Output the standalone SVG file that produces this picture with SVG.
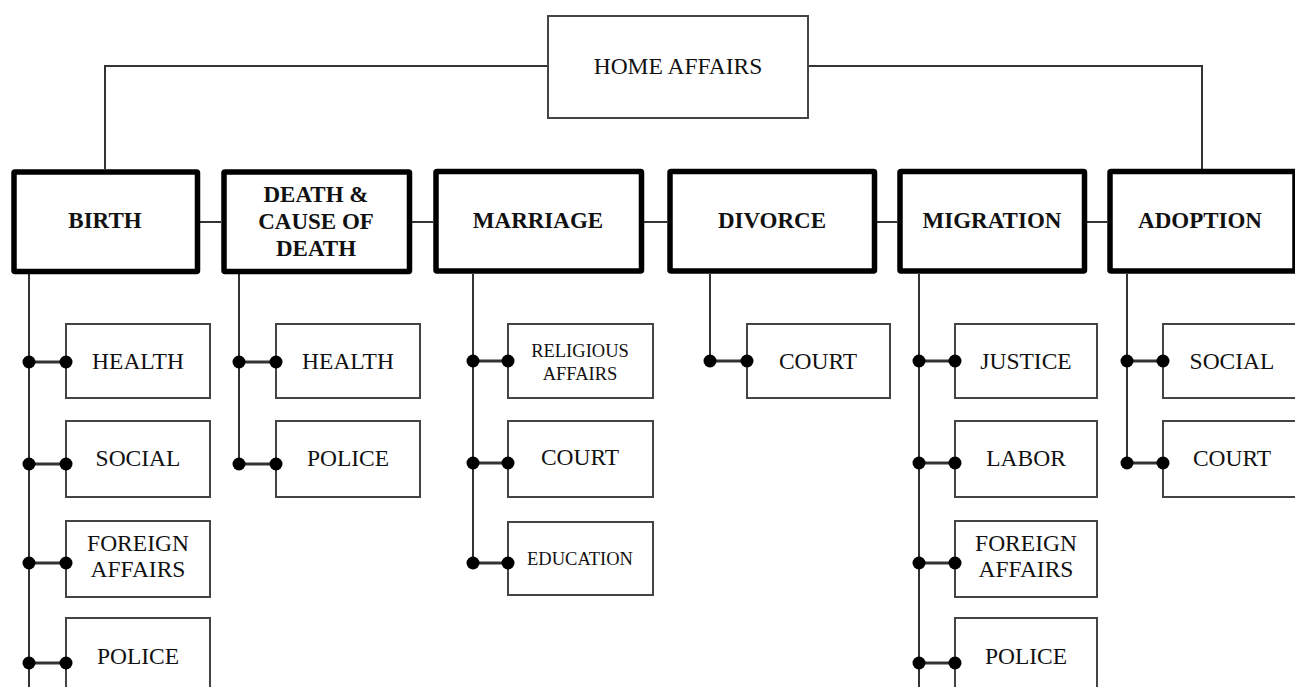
<svg xmlns="http://www.w3.org/2000/svg" width="1295" height="687" viewBox="0 0 1295 687">
<style>
.main{fill:#fff;stroke:#000;stroke-width:5.5}
.sub{fill:#fff;stroke:#444;stroke-width:2}
.top{fill:#fff;stroke:#444;stroke-width:2}
.ln{fill:none;stroke:#333;stroke-width:2}
.br{fill:none;stroke:#333;stroke-width:3}
.dot{fill:#000}
text{font-family:"Liberation Serif","Times New Roman",serif;fill:#111;text-anchor:middle}
.b{font-weight:bold;font-size:23px}
.n{font-size:23.5px}
.s{font-size:18.5px}
</style>
<rect width="1295" height="687" fill="#fff"/>
<g id="connectors">
<polyline class="ln" points="105,169 105,66 548,66"/>
<polyline class="ln" points="808,66 1202,66 1202,169"/>
<line class="ln" x1="200" y1="222" x2="221" y2="222"/>
<line class="ln" x1="412" y1="222" x2="433" y2="222"/>
<line class="ln" x1="644" y1="222" x2="667" y2="222"/>
<line class="ln" x1="877" y1="222" x2="897" y2="222"/>
<line class="ln" x1="1087" y1="222" x2="1107" y2="222"/>
<line class="ln" x1="29" y1="274" x2="29" y2="687"/>
<line class="ln" x1="239" y1="274" x2="239" y2="464"/>
<line class="ln" x1="473" y1="274" x2="473" y2="563"/>
<line class="ln" x1="710" y1="274" x2="710" y2="361"/>
<line class="ln" x1="919" y1="274" x2="919" y2="687"/>
<line class="ln" x1="1127" y1="274" x2="1127" y2="463"/>
<g class="br">
<line x1="29" y1="362" x2="66" y2="362"/><line x1="29" y1="464" x2="66" y2="464"/><line x1="29" y1="563" x2="66" y2="563"/><line x1="29" y1="663" x2="66" y2="663"/>
<line x1="239" y1="362" x2="276" y2="362"/><line x1="239" y1="464" x2="276" y2="464"/>
<line x1="473" y1="361" x2="508" y2="361"/><line x1="473" y1="463" x2="508" y2="463"/><line x1="473" y1="563" x2="508" y2="563"/>
<line x1="710" y1="361" x2="747" y2="361"/>
<line x1="919" y1="361" x2="955" y2="361"/><line x1="919" y1="463" x2="955" y2="463"/><line x1="919" y1="563" x2="955" y2="563"/><line x1="919" y1="663" x2="955" y2="663"/>
<line x1="1127" y1="361" x2="1163" y2="361"/><line x1="1127" y1="463" x2="1163" y2="463"/>
</g>
</g>
<g id="n-home"><rect class="top" x="548" y="16" width="260" height="102"/><text class="n" x="678" y="74">HOME AFFAIRS</text></g>
<g id="n-birth"><rect class="main" x="14" y="172" width="183.5" height="99.5" rx="1"/><text class="b" x="105" y="228">BIRTH</text></g>
<g id="n-death"><rect class="main" x="224" y="172" width="185.5" height="99.5" rx="1"/><text class="b" x="316" y="202">DEATH &amp;</text><text class="b" x="316" y="229">CAUSE OF</text><text class="b" x="316" y="256">DEATH</text></g>
<g id="n-marriage"><rect class="main" x="436" y="171.5" width="205.5" height="99.5" rx="1"/><text class="b" x="538" y="228">MARRIAGE</text></g>
<g id="n-divorce"><rect class="main" x="670" y="171.5" width="204.5" height="99.5" rx="1"/><text class="b" x="772" y="228">DIVORCE</text></g>
<g id="n-migration"><rect class="main" x="900" y="171.5" width="184.5" height="99.5" rx="1"/><text class="b" x="992" y="228">MIGRATION</text></g>
<g id="n-adoption"><rect class="main" x="1110" y="171.5" width="185" height="99.5" rx="1"/><text class="b" x="1200" y="228">ADOPTION</text></g>
<g id="n-birth-health"><rect class="sub" x="66" y="324" width="144" height="74"/><text class="n" x="138" y="369">HEALTH</text></g>
<g id="n-birth-social"><rect class="sub" x="66" y="421" width="144" height="76"/><text class="n" x="138" y="466">SOCIAL</text></g>
<g id="n-birth-foreign"><rect class="sub" x="66" y="521" width="144" height="76"/><text class="n" x="138" y="551">FOREIGN</text><text class="n" x="138" y="577">AFFAIRS</text></g>
<g id="n-birth-police"><rect class="sub" x="66" y="618" width="144" height="76"/><text class="n" x="138" y="664">POLICE</text></g>
<g id="n-death-health"><rect class="sub" x="276" y="324" width="144" height="74"/><text class="n" x="348" y="369">HEALTH</text></g>
<g id="n-death-police"><rect class="sub" x="276" y="421" width="144" height="76"/><text class="n" x="348" y="466">POLICE</text></g>
<g id="n-marriage-religious"><rect class="sub" x="508" y="324" width="145" height="74"/><text class="s" x="580" y="357">RELIGIOUS</text><text class="s" x="580" y="380">AFFAIRS</text></g>
<g id="n-marriage-court"><rect class="sub" x="508" y="421" width="145" height="76"/><text class="n" x="580" y="465">COURT</text></g>
<g id="n-marriage-education"><rect class="sub" x="508" y="522" width="145" height="73"/><text class="s" x="580" y="565">EDUCATION</text></g>
<g id="n-divorce-court"><rect class="sub" x="747" y="324" width="143" height="74"/><text class="n" x="818" y="369">COURT</text></g>
<g id="n-migration-justice"><rect class="sub" x="955" y="324" width="142" height="74"/><text class="n" x="1026" y="369">JUSTICE</text></g>
<g id="n-migration-labor"><rect class="sub" x="955" y="421" width="142" height="76"/><text class="n" x="1026" y="466">LABOR</text></g>
<g id="n-migration-foreign"><rect class="sub" x="955" y="521" width="142" height="76"/><text class="n" x="1026" y="551">FOREIGN</text><text class="n" x="1026" y="577">AFFAIRS</text></g>
<g id="n-migration-police"><rect class="sub" x="955" y="618" width="142" height="76"/><text class="n" x="1026" y="664">POLICE</text></g>
<g id="n-adoption-social"><rect class="sub" x="1163" y="324" width="143" height="74"/><text class="n" x="1232" y="369">SOCIAL</text></g>
<g id="n-adoption-court"><rect class="sub" x="1163" y="421" width="143" height="76"/><text class="n" x="1232" y="466">COURT</text></g>
<g id="dots" class="dot">
<circle cx="29" cy="362" r="6.5"/><circle cx="66" cy="362" r="6.5"/><circle cx="29" cy="464" r="6.5"/><circle cx="66" cy="464" r="6.5"/><circle cx="29" cy="563" r="6.5"/><circle cx="66" cy="563" r="6.5"/><circle cx="29" cy="663" r="6.5"/><circle cx="66" cy="663" r="6.5"/>
<circle cx="239" cy="362" r="6.5"/><circle cx="276" cy="362" r="6.5"/><circle cx="239" cy="464" r="6.5"/><circle cx="276" cy="464" r="6.5"/>
<circle cx="473" cy="361" r="6.5"/><circle cx="508" cy="361" r="6.5"/><circle cx="473" cy="463" r="6.5"/><circle cx="508" cy="463" r="6.5"/><circle cx="473" cy="563" r="6.5"/><circle cx="508" cy="563" r="6.5"/>
<circle cx="710" cy="361" r="6.5"/><circle cx="747" cy="361" r="6.5"/>
<circle cx="919" cy="361" r="6.5"/><circle cx="955" cy="361" r="6.5"/><circle cx="919" cy="463" r="6.5"/><circle cx="955" cy="463" r="6.5"/><circle cx="919" cy="563" r="6.5"/><circle cx="955" cy="563" r="6.5"/><circle cx="919" cy="663" r="6.5"/><circle cx="955" cy="663" r="6.5"/>
<circle cx="1127" cy="361" r="6.5"/><circle cx="1163" cy="361" r="6.5"/><circle cx="1127" cy="463" r="6.5"/><circle cx="1163" cy="463" r="6.5"/>
</g>
</svg>
